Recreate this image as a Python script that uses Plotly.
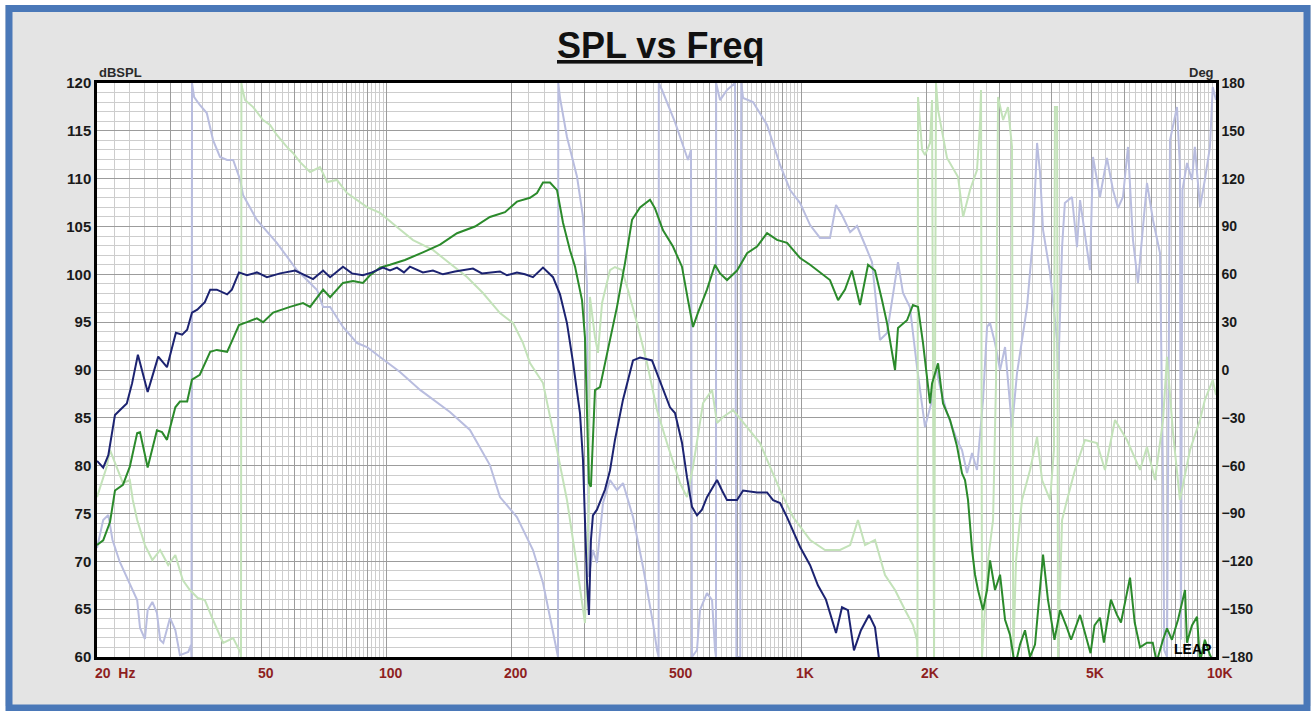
import math
import plotly.graph_objects as go

# ---------------- data ----------------
# Dark (navy) SPL curve
navy_f = [20, 20.7, 21.3, 22.1, 22.7, 23.6, 24.3, 25.1, 26.5, 28.1, 29.5, 31.0, 32.1, 33.0, 33.9, 34.9,
          36.4, 37.5, 38.9, 41.2, 42.3, 44.0, 46.0, 48.6, 51.4, 55.3, 60.1, 63.5, 66.4, 70.2, 73.0,
          78.4, 82.4, 87.6, 92.1, 97.9, 101.8, 105.8, 110.0, 113.7, 122.2, 129.2, 136.6, 146.0, 161.4,
          169.6, 177.3, 187.5, 194.9, 206.0, 215.4, 225.2, 238.1, 244.8, 251.7, 261.7, 272.0, 281.3,
          292.4, 297.3, 300.6, 303.9, 307.3, 310.7, 314.2, 321.3, 336.0, 345.4, 355.1, 371.3, 392.5,
          408.1, 436.2, 461.1, 482.0, 495.6, 515.2, 529.7, 544.6, 560.0, 575.7, 591.9, 625.9, 643.6,
          661.6, 699.5, 723.3, 781.6, 826.4, 854.5, 888.3, 923.6, 992.9, 1049.5, 1096, 1146, 1212,
          1253, 1295, 1339, 1392, 1456, 1505, 1538, 1570]
navy_db = [80.5, 79.8, 81.1, 85.3, 85.8, 86.5, 88.6, 91.6, 87.7, 91.4, 90.3, 93.9, 93.7, 94.2, 96.0, 96.3,
           97.1, 98.4, 98.4, 97.9, 98.4, 100.2, 99.9, 100.2, 99.7, 100.1, 100.4, 99.9, 99.5, 100.4, 99.7,
           100.8, 100.1, 99.9, 100.2, 100.7, 100.4, 100.7, 100.2, 100.8, 100.2, 100.4, 100.0, 100.3, 100.6,
           100.1, 100.2, 100.3, 99.9, 100.2, 100.0, 99.7, 100.7, 100.2, 99.7, 97.9, 94.9, 90.8,
           85.5, 80.6, 74.6, 68.0, 64.4, 72.2, 74.8, 75.4, 77.5, 79.5, 82.7, 86.9, 91.0,
           91.3, 91.0, 88.2, 86.1, 85.5, 82.4, 78.8, 75.7, 74.8, 75.4, 76.7, 78.5, 77.4,
           76.4, 76.4, 77.4, 77.2, 77.2, 76.4, 76.1, 74.6, 71.5, 69.6, 67.5, 66.0, 62.5,
           65.2, 64.9, 60.7, 62.8, 64.4, 63.1, 59.9, 57.0]

# Green SPL curve
green_f = [20, 20.7, 21.5, 22.1, 23.1, 24.0, 25.0, 25.4, 26.5, 27.9, 28.7, 29.5, 30.9, 31.7, 33.0, 33.9,
           35.4, 37.5, 38.9, 41.2, 42.6, 44.0, 46.0, 48.6, 50.3, 53.2, 58.4, 62.8, 65.3, 70.2, 73.0,
           78.4, 82.9, 87.6, 91.1, 96.3, 101.8, 110.6, 122.2, 134.4, 147.7, 163.2, 177.3, 192.8, 206.0,
           221.5, 230.3, 238.1, 247.5, 257.4, 266.1, 276.7, 284.5, 295.7, 300.6, 303.9, 307.3, 310.7,
           314.2, 317.8, 326.7, 341.6, 359.1, 375.5, 390.4, 408.1, 431.4, 443.5, 463.7, 490.1, 515.2,
           532.7, 547.7, 563.1, 591.9, 619.0, 636.5, 661.6, 699.5, 739.5, 781.6, 826.4, 873.4, 923.6,
           992.9, 1049.5, 1172, 1226, 1274, 1324, 1385, 1448, 1505, 1565, 1609, 1682, 1710, 1798, 1858,
           1911, 1965, 2043, 2066, 2136, 2196, 2283, 2374, 2440, 2481, 2523, 2580, 2623, 2667, 2742,
           2804, 2851, 2931, 3014, 3099, 3186, 3276, 3367, 3462, 3560, 3660, 3827, 3932, 4078, 4206,
           4366, 4472, 4700, 4810, 4982, 5093, 5250, 5366, 5579, 5769, 5900, 6203, 6367, 6558, 6815,
           7037, 7192, 7450, 7617, 7830, 8098, 8420, 8510, 8750, 9000, 9150, 9400, 9670, 10000]
green_db = [71.7, 72.2, 74.1, 77.4, 78.0, 79.9, 83.4, 83.5, 79.8, 83.7, 83.5, 82.7, 86.1, 86.7, 86.7, 89.0,
            89.5, 91.9, 92.1, 91.9, 93.3, 94.7, 95.0, 95.4, 95.0, 96.0, 96.6, 97.0, 96.6, 98.4, 97.6,
            99.1, 99.3, 99.1, 99.9, 100.7, 101.0, 101.5, 102.3, 103.1, 104.3, 105.0, 106.0, 106.5, 107.6,
            108.0, 108.5, 109.6, 109.6, 108.8, 105.4, 102.5, 100.8, 97.3, 93.4, 85.1, 78.2, 77.8,
            83.4, 87.9, 88.2, 92.1, 96.6, 101.2, 105.7, 107.0, 107.8, 106.9, 104.6, 102.9, 100.8,
            97.3, 94.5, 96.0, 98.4, 101.0, 100.1, 99.4, 100.4, 102.2, 102.9, 104.3, 103.6, 103.3,
            101.7, 101.0, 99.4, 97.3, 98.4, 100.4, 96.8, 101.0, 100.4, 97.3, 94.9, 90.0, 94.4, 95.2, 96.8,
            96.6, 92.8, 86.5, 88.6, 90.7, 86.5, 84.8, 82.0, 79.2, 78.5, 76.4, 71.2, 68.6, 67.0, 64.9,
            67.0, 70.1, 67.0, 68.6, 63.9, 62.3, 59.0, 61.3, 62.8, 60.0, 61.3, 70.7, 66.0, 61.8, 64.9,
            63.1, 61.8, 64.4, 62.8, 60.4, 63.3, 64.1, 61.5, 66.0, 64.4, 63.6, 68.3, 63.6, 61.0, 61.5,
            61.5, 59.5, 61.8, 63.0, 61.8, 63.9, 67.0, 61.5, 63.3, 64.2, 59.5, 61.8, 60.2, 59.0]

# Phase of the navy driver (light lavender), degrees
navy_ph_f = [20, 20.7, 21.3, 21.8, 22.7, 24.0, 25.0, 25.4, 26.1, 26.5, 27.2, 27.9, 28.4, 28.9, 30.0, 30.9,
             31.7, 33.2, 33.7, 33.8, 33.9, 34.3, 35.4, 36.8, 38.1, 39.6, 41.2, 42.6, 44.3, 45.0, 48.6,
             54.3, 60.7, 67.9, 70.2, 73.0, 78.4, 84.8, 89.6, 96.3, 107.6, 120.3, 142.0, 158.7, 177.3,
             187.5, 206.0, 225.2, 238.1, 247.5, 254.5, 258.8, 259.2, 261.7, 272.0, 287.7, 297.3, 303.9,
             307.0, 314.2, 321.3, 332.3, 345.4, 359.1, 371.3, 392.5, 415.0, 438.6, 448.4, 452.5, 453.0,
             461.1, 495.6, 532.7, 541.6, 544.6, 560.0, 569.4, 591.9, 608.9, 619.0, 622.3, 622.8, 636.5,
             661.6, 691.7, 697.0, 712.0, 716.0, 723.3, 764.3, 826.4, 888.3, 939.2, 992.9, 1049.5, 1109,
             1172, 1212, 1253, 1311, 1362, 1424, 1480, 1547, 1609, 1710, 1758, 1827, 1900, 1987, 2066,
             2100, 2160, 2245, 2374, 2440, 2509, 2580, 2652, 2742, 2804, 2851, 2931, 3014, 3099, 3221,
             3312, 3501, 3620, 3702, 3764, 3827, 3979, 4137, 4159, 4253, 4320, 4494, 4621, 4700, 4967,
             5050, 5250, 5458, 5643, 5802, 5965, 6133, 6306, 6483, 6816, 7047, 7327, 7452, 7500, 7618,
             7746, 8052, 8184, 8230, 8300, 8515, 8750, 8892, 9150, 9400, 9670, 9820, 10000]
navy_ph = [-111.6, -94.1, -91.0, -106.6, -120.4, -134.8, -144.3, -161.8, -168.7, -150.5, -145.5, -152.4,
           -169.3, -171.2, -155.5, -163.1, -178.8, -176.9, -172.5, -180, 180, 171.2, 166.2, 161.2, 144.2,
           133.6, 131.7, 131.7, 119.2, 109.8, 94.1, 79.7, 62.7, 50.2, 39.5, 39.5, 27.0, 16.9, 14.4, 8.2,
           -1.3, -12.5, -26.3, -37.6, -59.6, -79.7, -92.2, -112.9, -133.6, -154.9, -171.2, -180, 180,
           170.6, 146.1, 121.0, 96.0, 54.6, -129.8, -112.9, -121.0, -83.4, -69.0, -75.3, -70.9, -92.2,
           -123.6, -158.7, -175.6, -180, 180, 175.6, 155.5, 131.7, 138.0, -180, -175.6, -150.5, -139.9,
           -144.3, -175.6, -180, 180, 169.3, 175.6, 180, -180, -180, 180, 170.6, 168.1, 153.7, 128.6,
           112.9, 104.7, 90.9, 82.8, 82.8, 103.5, 97.2, 86.5, 90.3, 78.4, 67.7, 18.8, 23.2, 67.7, 48.3,
           39.5, 1.9, -35.8, -18.8, 4.4, -10.7, -27.0, -43.9, -50.2, -64.6, -52.1, -62.7, -18.8, 27.0,
           29.5, 16.9, 0.0, 14.4, -35.8, -1.9, 39.5, 83.4, 142.4, 123.6, 87.8, 60.8, 18.8, -6.3, 77.1,
           104.7, 108.5, 77.1, 106.6, 62.7, 133.6, 108.5, 133.0, 112.9, 101.6, 108.5, 139.9, 81.5, 54.6,
           117.3, 94.1, 73.4, -69.0, -175.6, -180, 144.2, 164.9, 127.3, -169.0, 112.9, 129.8, 119.2,
           139.9, 102.2, 119.2, 139.9, 177.5, 169.3]

# Phase of the green driver (light green), degrees
green_ph_f = [20, 20.6, 21.1, 21.5, 22.3, 23.1, 24.0, 24.4, 25.0, 26.1, 27.2, 28.4, 29.7, 30.9, 32.2, 33.5,
              35.0, 36.4, 38.1, 40.3, 42.6, 44.3, 44.5, 44.6, 44.8, 45.5, 47.6, 50.3, 52.3, 54.3, 57.4,
              59.4, 61.7, 65.3, 69.0, 71.8, 75.8, 80.2, 89.6, 96.3, 105.8, 115.7, 129.2, 142.0, 156.1,
              170.6, 187.5, 201.6, 213.1, 221.5, 238.1, 257.4, 272.0, 287.7, 300.6, 307.3, 309.0, 317.8,
              323.1, 330.5, 345.4, 355.1, 369.2, 381.7, 401.3, 424.3, 448.4, 474.0, 509.6, 529.7, 547.7,
              579.1, 608.9, 625.9, 647.3, 684.3, 739.5, 794.7, 840.3, 888.3, 954.7, 992.9, 1049.5, 1140,
              1239, 1311, 1369, 1424, 1505, 1591, 1682, 1778, 1858, 1900, 1905, 1911, 1955, 1987, 2043,
              2066, 2089, 2112, 2136, 2245, 2387, 2455, 2551, 2652, 2697, 2712, 2727, 2742, 2819, 2899,
              2948, 2981, 3066, 3150, 3221, 3243, 3294, 3404, 3560, 3702, 3806, 3979, 4066, 4088, 4137,
              4159, 4253, 4372, 4569, 4831, 5163, 5398, 5707, 6099, 6558, 6815, 7126, 7452, 7617, 7877,
              8184, 8656, 9150, 9400, 9820, 10000]
green_ph = [-79.7, -69.0, -60.8, -50.2, -60.8, -70.9, -69.0, -81.5, -94.1, -109.8, -119.2, -112.9, -122.3,
            -116.0, -131.7, -138.0, -143.0, -144.3, -156.8, -171.2, -168.1, -176.9, -180, 180, 176.9,
            169.3, 164.9, 156.8, 153.7, 147.4, 139.9, 136.1, 130.5, 124.2, 127.3, 117.9, 119.2, 111.0,
            102.2, 98.5, 89.7, 81.5, 75.3, 67.1, 58.3, 48.3, 35.7, 29.5, 16.9, 4.4, -8.2, -50.2, -81.5,
            -123.6, -158.7, -81.5, 45.8, 20.7, 10.7, 42.0, 62.7, 64.6, 62.7, 50.2, 29.5, 4.4, -25.1,
            -45.8, -70.9, -79.7, -60.8, -20.7, -12.5, -33.2, -29.5, -25.1, -35.8, -45.8, -60.8, -75.3,
            -92.2, -98.5, -106.6, -112.9, -112.9, -109.8, -94.1, -109.8, -106.6, -128.6, -138.0, -150.5,
            -159.9, -169.3, -180, 171.2, 138.0, 134.8, 142.4, 169.3, -180, 180, 163.1, 133.0, 121.0,
            96.0, 112.9, 125.4, 154.9, 175.6, -180, -169.3, -119.2, -94.1, -6.3, 171.2, 156.8, 164.9,
            139.9, -180, -119.2, -81.5, -62.7, -42.0, -69.0, -81.5, -50.2, 164.9, 164.9, -180, -94.1,
            -81.5, -62.7, -43.9, -45.8, -62.7, -31.4, -43.9, -62.7, -48.3, -69.0, -31.4, 8.2, -39.5,
            -81.5, -50.2, -31.4, -18.8, -6.3, -15.7]

# Axis ticks and labels
db_ticks = list(range(60, 121, 5))
deg_ticks = list(range(-180, 181, 30))
freq_label_vals = [20, 50, 100, 200, 500, 1000, 2000, 5000, 10000]
freq_label_text = ["20  Hz", "50", "100", "200", "500", "1K", "2K", "5K", "10K"]

# ---------------- grid positions ----------------
x_major_grid = []
x_minor_grid = []
for dec in (10, 100, 1000):
    for m in range(20, 101, 2):
        v = dec * m / 10
        if v < 20 or v > 10000:
            continue
        if m % 10 == 0:
            x_major_grid.append(v)
        else:
            x_minor_grid.append(v)

FONT = "Liberation Sans, Arial, sans-serif"

fig = go.Figure()

fig.add_trace(go.Scatter(x=navy_ph_f, y=navy_ph, mode="lines", yaxis="y",
                         line=dict(color="#b9bddf", width=2), hoverinfo="skip"))
fig.add_trace(go.Scatter(x=green_ph_f, y=green_ph, mode="lines", yaxis="y",
                         line=dict(color="#c3e2b9", width=2), hoverinfo="skip"))
fig.add_trace(go.Scatter(x=green_f, y=green_db, mode="lines", yaxis="y2",
                         line=dict(color="#2b8a2b", width=2), hoverinfo="skip"))
fig.add_trace(go.Scatter(x=navy_f, y=navy_db, mode="lines", yaxis="y2",
                         line=dict(color="#1c2371", width=2), hoverinfo="skip"))

L, R, T, B = 97, 100, 83, 54
W, H = 1316, 711
pw, ph = W - L - R, H - T - B


def px_x(px):
    return (px - L) / pw


def px_y(py):
    return (H - B - py) / ph


fig.update_layout(
    width=W, height=H,
    margin=dict(l=L, r=R, t=T, b=B),
    paper_bgcolor="#e4e4e4",
    plot_bgcolor="white",
    showlegend=False,
    xaxis=dict(
        type="log", range=[math.log10(20), 4],
        tickmode="array", tickvals=x_major_grid, showticklabels=False, ticks="",
        showgrid=True, gridcolor="#9c9c9c", gridwidth=1,
        minor=dict(tickmode="array", tickvals=x_minor_grid, showgrid=True,
                   gridcolor="#cdcdcd", gridwidth=1, ticks=""),
        showline=True, linecolor="black", linewidth=2.5, mirror=True, zeroline=False,
    ),
    yaxis=dict(
        side="right", range=[-180, 180], tickmode="array", tickvals=deg_ticks,
        showgrid=False, zeroline=False, ticks="",
        tickfont=dict(family=FONT, size=14, color="#1a1a1a", weight="bold"),
        showline=True, linecolor="black", linewidth=2.5,
    ),
    yaxis2=dict(
        overlaying="y", side="left", range=[60, 120], tickmode="array", tickvals=db_ticks,
        showgrid=True, gridcolor="#9c9c9c", gridwidth=1, zeroline=False, ticks="",
        minor=dict(dtick=1, showgrid=True, gridcolor="#cdcdcd", gridwidth=1, ticks=""),
        tickfont=dict(family=FONT, size=15, color="#1a1a1a", weight="bold"),
        showline=True, linecolor="black", linewidth=2.5,
    ),
)

annotations = []
for v, t in zip(freq_label_vals, freq_label_text):
    first = v == freq_label_vals[0]
    annotations.append(dict(
        x=math.log10(v), xref="x", y=px_y(673), yref="paper",
        text=t, showarrow=False, xanchor="left" if first else "center", yanchor="middle",
        xshift=-4 if first else 4,
        font=dict(family=FONT, size=14, color="#8e1f1f", weight="bold"),
    ))
annotations += [
    dict(x=px_x(660), xref="paper", y=px_y(45), yref="paper",
         text="<u>SPL vs Freq</u>", showarrow=False, xanchor="center", yanchor="middle",
         font=dict(family=FONT, size=36, color="#111111", weight="bold")),
    dict(x=0, xref="paper", y=px_y(72), yref="paper", text="dBSPL", showarrow=False,
         xanchor="left", yanchor="middle",
         font=dict(family=FONT, size=13, color="#2a2a2a", weight="bold")),
    dict(x=1, xref="paper", y=px_y(72), yref="paper", text="Deg", showarrow=False,
         xanchor="right", yanchor="middle",
         font=dict(family=FONT, size=13, color="#2a2a2a", weight="bold")),
    dict(x=px_x(1213), xref="paper", y=px_y(649), yref="paper", text="LEAP", showarrow=False,
         xanchor="right", yanchor="middle",
         font=dict(family=FONT, size=14, color="#000000", weight="bold")),
]
fig.update_layout(annotations=annotations)

fig.update_layout(shapes=[
    dict(type="rect", xref="paper", yref="paper",
         x0=px_x(0), x1=px_x(W), y0=px_y(H), y1=px_y(0),
         line=dict(color="white", width=10), fillcolor="rgba(0,0,0,0)", layer="above"),
    dict(type="rect", xref="paper", yref="paper",
         x0=px_x(9), x1=px_x(1307), y0=px_y(708), y1=px_y(8.5),
         line=dict(color="#4a78b8", width=7), fillcolor="rgba(0,0,0,0)", layer="above"),
])

fig.write_html("out.html", config={"displayModeBar": False},
               post_script="document.body.style.margin='0px';document.body.style.overflow='hidden';")
